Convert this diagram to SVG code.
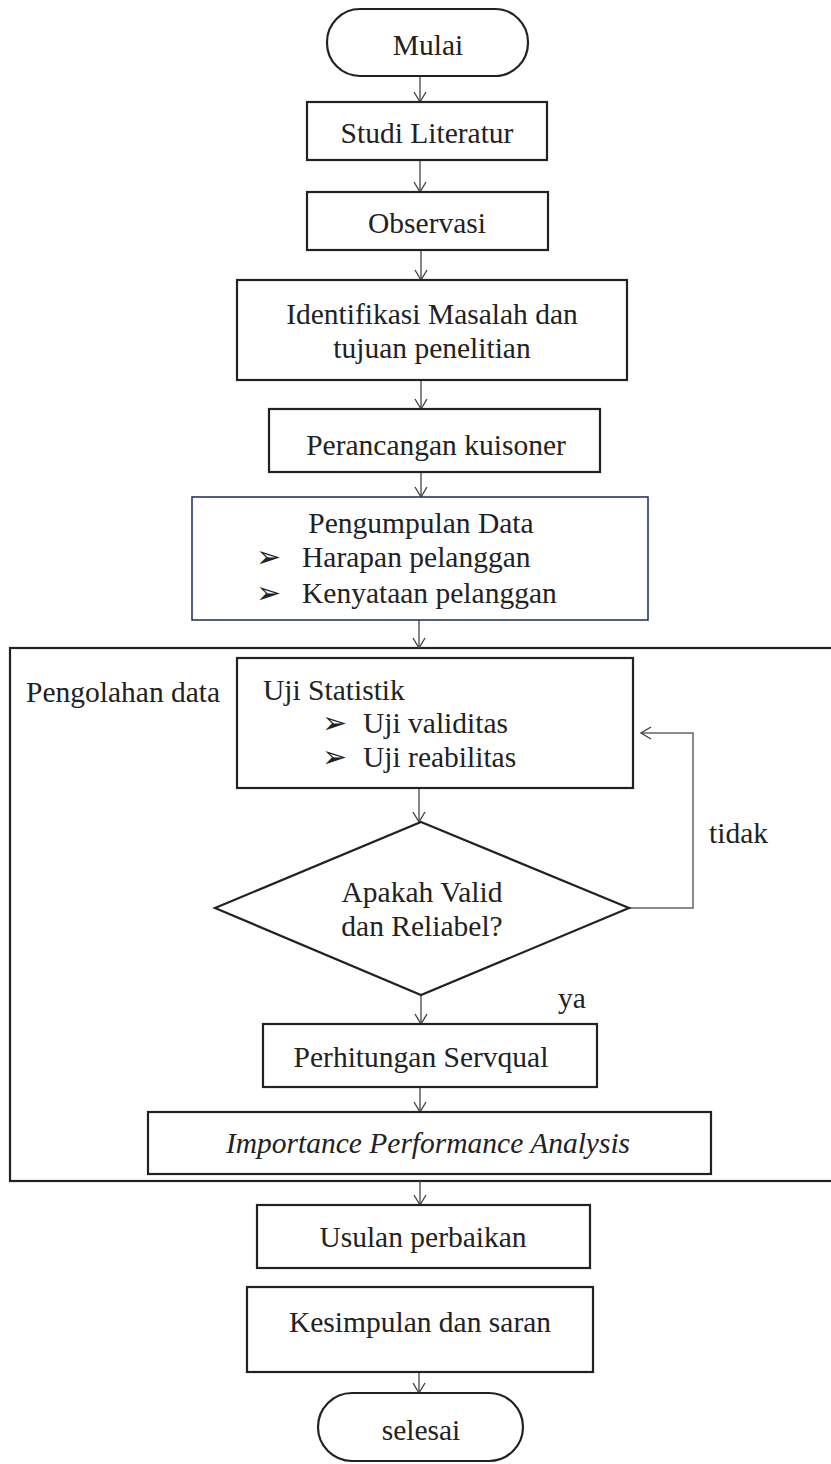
<svg xmlns="http://www.w3.org/2000/svg" width="831" height="1464" viewBox="0 0 831 1464">
<style>
.box{fill:#fff;stroke:#222;stroke-width:2.2}
.blue{fill:#fff;stroke:#2a3566;stroke-width:1.6}
.t{font-family:"Liberation Serif","Times New Roman",serif;font-size:29.5px;fill:#222}
.c{text-anchor:middle}
.con{fill:none;stroke:#444;stroke-width:1.3}
.fb{fill:none;stroke:#666;stroke-width:1.5}
</style>
<defs>
<marker id="ah" markerUnits="userSpaceOnUse" markerWidth="14" markerHeight="16" refX="11" refY="7" orient="auto">
<path d="M1,1 L11,7 L1,13" fill="none" stroke="#444" stroke-width="1.4"/>
</marker>
</defs>
<rect x="0" y="0" width="831" height="1464" fill="#fff"/>

<g id="container">
<rect x="10" y="648" width="840" height="533" fill="none" stroke="#222" stroke-width="2.2"/>
<text class="t" x="26" y="702">Pengolahan data</text>
</g>

<g id="connectors">
<line class="con" x1="420" y1="76" x2="420" y2="102" marker-end="url(#ah)"/>
<line class="con" x1="420" y1="160" x2="420" y2="192" marker-end="url(#ah)"/>
<line class="con" x1="421" y1="250" x2="421" y2="280" marker-end="url(#ah)"/>
<line class="con" x1="421" y1="380" x2="421" y2="409" marker-end="url(#ah)"/>
<line class="con" x1="421" y1="472" x2="421" y2="497" marker-end="url(#ah)"/>
<line class="con" x1="419" y1="620" x2="419" y2="648" marker-end="url(#ah)"/>
<line class="con" x1="419" y1="788" x2="419" y2="822" marker-end="url(#ah)"/>
<line class="con" x1="421" y1="995" x2="421" y2="1024" marker-end="url(#ah)"/>
<line class="con" x1="420" y1="1087" x2="420" y2="1112" marker-end="url(#ah)"/>
<line class="con" x1="420" y1="1181" x2="420" y2="1205" marker-end="url(#ah)"/>
<line class="con" x1="419" y1="1372" x2="419" y2="1393" marker-end="url(#ah)"/>
<polyline class="fb" points="629,908 693,908 693,733 641,733" marker-end="url(#ah)"/>
<text class="t" x="709" y="843">tidak</text>
<text class="t" x="558" y="1008">ya</text>
</g>

<g id="mulai">
<rect class="box" x="327" y="9" width="201" height="67" rx="33" ry="33"/>
<text class="t c" x="428" y="55">Mulai</text>
</g>

<g id="studi">
<rect class="box" x="307" y="102" width="240" height="58"/>
<text class="t c" x="427" y="143">Studi Literatur</text>
</g>

<g id="observasi">
<rect class="box" x="307" y="192" width="241" height="58"/>
<text class="t c" x="427" y="233">Observasi</text>
</g>

<g id="identifikasi">
<rect class="box" x="237" y="280" width="390" height="100"/>
<text class="t c" x="432" y="324">Identifikasi Masalah dan</text>
<text class="t c" x="432" y="358">tujuan penelitian</text>
</g>

<g id="perancangan">
<rect class="box" x="269" y="409" width="331" height="63"/>
<text class="t c" x="436" y="455">Perancangan kuisoner</text>
</g>

<g id="pengumpulan">
<rect class="blue" x="192" y="497" width="456" height="123"/>
<text class="t c" x="421" y="533">Pengumpulan Data</text>
<text class="t" x="256" y="567">➢</text>
<text class="t" x="302" y="567">Harapan pelanggan</text>
<text class="t" x="256" y="603">➢</text>
<text class="t" x="302" y="603">Kenyataan pelanggan</text>
</g>

<g id="uji">
<rect class="box" x="237" y="658" width="396" height="130"/>
<text class="t" x="263" y="700">Uji Statistik</text>
<text class="t" x="322" y="733">➢</text>
<text class="t" x="363" y="733">Uji validitas</text>
<text class="t" x="322" y="767">➢</text>
<text class="t" x="363" y="767">Uji reabilitas</text>
</g>

<g id="keputusan">
<polygon class="box" points="421,822 629,908 421,995 215,908"/>
<text class="t c" x="422" y="902">Apakah Valid</text>
<text class="t c" x="422" y="936">dan Reliabel?</text>
</g>

<g id="servqual">
<rect class="box" x="263" y="1024" width="334" height="63"/>
<text class="t c" x="421" y="1067">Perhitungan Servqual</text>
</g>

<g id="ipa">
<rect class="box" x="148" y="1112" width="563" height="62"/>
<text class="t c" x="428" y="1153" font-style="italic">Importance Performance Analysis</text>
</g>

<g id="usulan">
<rect class="box" x="257" y="1205" width="333" height="63"/>
<text class="t c" x="423" y="1247">Usulan perbaikan</text>
</g>

<g id="kesimpulan">
<rect class="box" x="247" y="1287" width="346" height="85"/>
<text class="t c" x="420" y="1332">Kesimpulan dan saran</text>
</g>

<g id="selesai">
<rect class="box" x="318" y="1393" width="205" height="68" rx="34" ry="34"/>
<text class="t c" x="421" y="1440">selesai</text>
</g>
</svg>
